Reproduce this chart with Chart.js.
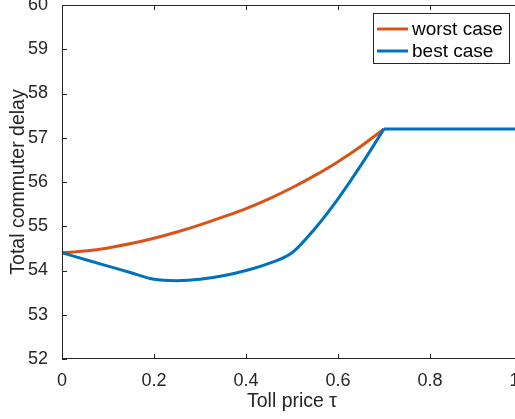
<!DOCTYPE html>
<html>
<head>
<meta charset="utf-8">
<script src="https://cdn.jsdelivr.net/npm/chart.js@4.4.1/dist/chart.umd.min.js"></script>
<style>
  html, body { margin: 0; padding: 0; background: #fff; overflow: hidden; }
  #wrap { position: absolute; left: 0; top: 0; width: 525px; height: 419px; }
</style>
</head>
<body>
<div id="wrap"><canvas id="delayChart" width="525" height="419"></canvas></div>
<script>
// toll price samples
const tau = [0, 0.05, 0.1, 0.15, 0.2, 0.25, 0.3, 0.35, 0.4, 0.45, 0.5, 0.55, 0.6, 0.65, 0.7,
             0.75, 0.8, 0.85, 0.9, 0.95, 1];

// total commuter delay (worst case is hidden under best case past 0.7)
const worstCase = [54.40, 54.44, 54.51, 54.61, 54.73, 54.87, 55.03, 55.21, 55.40, 55.62, 55.87,
                   56.15, 56.46, 56.81, 57.20, null, null, null, null, null, null];
const bestCase = [54.40, 54.25, 54.10, 53.95, 53.80, 53.77, 53.80, 53.88, 54.00, 54.16, 54.40,
                  54.95, 55.62, 56.38, 57.20, 57.20, 57.20, 57.20, 57.20, 57.20, 57.20];
const kinkIndex = 14; // tau = 0.7, where both curves hit the plateau

const seriesLabels = ['worst case', 'best case'];
const xTitle = 'Toll price τ';
const yTitle = 'Total commuter delay';

const axisColor = '#262626';
const fontFamily = '"Liberation Sans", Arial, Helvetica, sans-serif';
const worstColor = '#D95319';
const bestColor = '#0072BD';

function toPoints(ys, from, to) {
    return tau.slice(from, to).map((t, i) => ({ x: t, y: ys[from + i] }));
}

// MATLAB style box with inward ticks, plus legend box
const boxPlugin = {
    id: 'matlabBox',
    afterDatasetsDraw(chart) {
        const ctx = chart.ctx;
        const a = chart.chartArea;
        const xs = chart.scales.x;
        const ys = chart.scales.y;
        const tl = 5;
        ctx.save();
        ctx.strokeStyle = axisColor;
        ctx.lineWidth = 1;
        ctx.beginPath();
        ctx.rect(a.left + 0.5, a.top + 0.5, a.right - a.left - 1, a.bottom - a.top - 1);
        xs.ticks.forEach(t => {
            const px = Math.round(xs.getPixelForValue(t.value)) + 0.5;
            ctx.moveTo(px, a.bottom); ctx.lineTo(px, a.bottom - tl);
            ctx.moveTo(px, a.top); ctx.lineTo(px, a.top + tl);
        });
        ys.ticks.forEach(t => {
            const py = Math.round(ys.getPixelForValue(t.value)) + 0.5;
            ctx.moveTo(a.left, py); ctx.lineTo(a.left + tl, py);
            ctx.moveTo(a.right, py); ctx.lineTo(a.right - tl, py);
        });
        ctx.stroke();

        // legend
        const lx = 373.5, ly = 13.5, lw = 136, lh = 50;
        ctx.fillStyle = '#fff';
        ctx.fillRect(lx, ly, lw, lh);
        ctx.strokeRect(lx, ly, lw, lh);
        ctx.font = '19px ' + fontFamily;
        ctx.textBaseline = 'middle';
        chart.data.datasets.filter(ds => ds.label).forEach((ds, i) => {
            const y = 29 + i * 22;
            ctx.strokeStyle = ds.borderColor;
            ctx.lineWidth = 3;
            ctx.beginPath();
            ctx.moveTo(377, y); ctx.lineTo(408, y);
            ctx.stroke();
            ctx.fillStyle = '#000';
            ctx.fillText(ds.label, 412, y + 1);
        });
        ctx.restore();
    }
};

function initChart() {
    const ctx = document.getElementById('delayChart').getContext('2d');
    new Chart(ctx, {
        type: 'line',
        data: {
            datasets: [{
                label: seriesLabels[0],
                data: toPoints(worstCase, 0, tau.length),
                borderColor: worstColor,
                order: 2
            }, {
                label: seriesLabels[1],
                data: toPoints(bestCase, 0, kinkIndex + 1),
                borderColor: bestColor,
                order: 1
            }, {
                // plateau of the best case, kept separate so the corner at 0.7 stays sharp
                label: '',
                data: toPoints(bestCase, kinkIndex, tau.length),
                borderColor: bestColor,
                order: 0
            }]
        },
        options: {
            responsive: false,
            animation: false,
            elements: {
                line: { borderWidth: 3, cubicInterpolationMode: 'monotone', fill: false },
                point: { radius: 0 }
            },
            layout: { padding: { top: 5, right: 3, left: 0, bottom: 0 } },
            plugins: {
                legend: { display: false },
                tooltip: { enabled: false }
            },
            scales: {
                x: {
                    type: 'linear',
                    min: 0,
                    max: 1,
                    grid: { display: false },
                    border: { display: false },
                    ticks: {
                        stepSize: 0.2,
                        color: axisColor,
                        font: { family: fontFamily, size: 18 },
                        padding: 3,
                        maxRotation: 0
                    },
                    title: {
                        display: true,
                        text: xTitle,
                        color: axisColor,
                        font: { family: fontFamily, size: 19.5 },
                        padding: { top: 0, bottom: 6 }
                    },
                    afterFit(scale) {
                        scale.height = 60;
                        scale.paddingLeft = 0;
                        scale.paddingRight = 0;
                    }
                },
                y: {
                    min: 52,
                    max: 60,
                    grid: { display: false },
                    border: { display: false },
                    ticks: {
                        stepSize: 1,
                        color: axisColor,
                        font: { family: fontFamily, size: 18 },
                        padding: 6
                    },
                    title: {
                        display: true,
                        text: yTitle,
                        color: axisColor,
                        font: { family: fontFamily, size: 19.5 },
                        padding: { top: 7, bottom: 0 }
                    },
                    afterFit(scale) {
                        scale.width = 62;
                        scale.paddingTop = 0;
                        scale.paddingBottom = 0;
                    }
                }
            }
        },
        plugins: [boxPlugin]
    });
}

document.addEventListener('DOMContentLoaded', function() {
    initChart();
});
</script>
</body>
</html>
